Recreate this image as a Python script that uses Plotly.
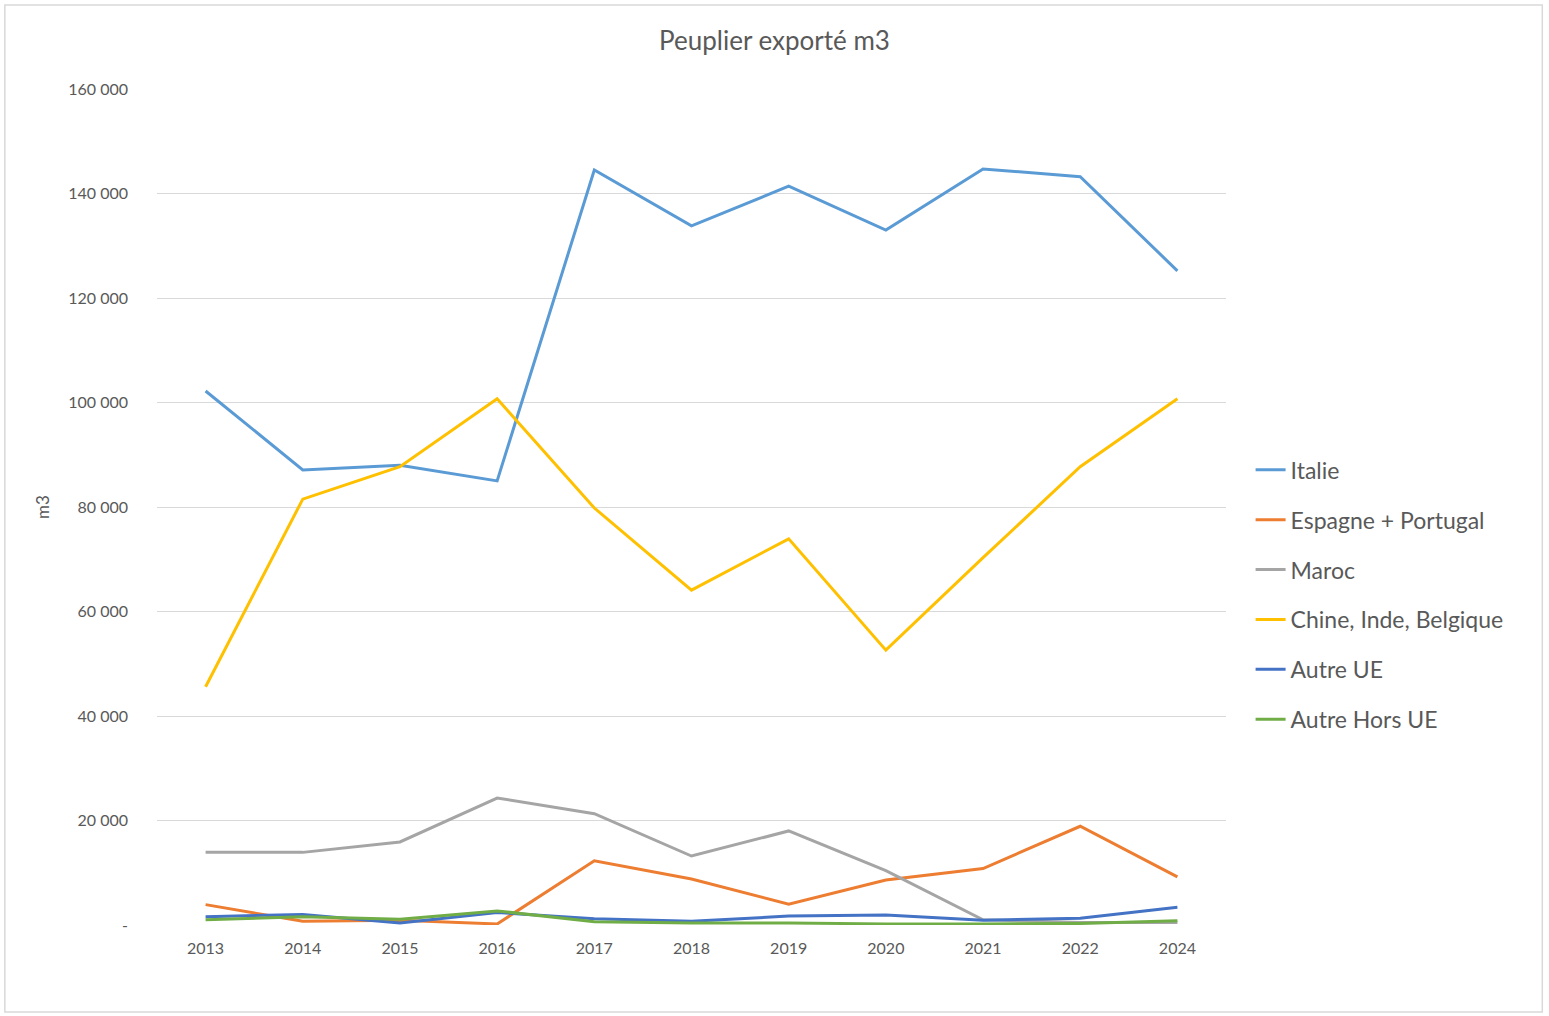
import plotly.graph_objects as go

years = ["2013", "2014", "2015", "2016", "2017", "2018", "2019", "2020", "2021", "2022", "2024"]

italie = [102200, 87100, 88000, 85000, 144500, 133800, 141400, 133000, 144700, 143200, 125200]
espagne_portugal = [3900, 700, 900, 200, 12300, 8800, 4000, 8600, 10800, 18900, 9200]
maroc = [13900, 13900, 15900, 24300, 21300, 13200, 18000, 10400, 1000, 500, 500]
chine_inde_belgique = [45600, 81500, 87700, 100700, 79800, 64100, 73900, 52600, 70300, 87700, 100700]
autre_ue = [1600, 2000, 400, 2400, 1200, 700, 1700, 1900, 900, 1300, 3400]
autre_hors_ue = [1000, 1600, 1100, 2700, 600, 400, 400, 200, 200, 300, 800]

series_names = ["Italie", "Espagne + Portugal", "Maroc", "Chine, Inde, Belgique", "Autre UE", "Autre Hors UE"]
series_values = [italie, espagne_portugal, maroc, chine_inde_belgique, autre_ue, autre_hors_ue]
colors = ["#5B9BD5", "#ED7D31", "#A5A5A5", "#FFC000", "#4472C4", "#70AD47"]

ytick_vals = [0, 20000, 40000, 60000, 80000, 100000, 120000, 140000, 160000]
ytick_text = ["-", "20 000", "40 000", "60 000", "80 000", "100 000", "120 000", "140 000", "160 000"]

fig = go.Figure()
for i, (name, vals, col) in enumerate(zip(series_names, series_values, colors)):
    fig.add_trace(go.Scatter(
        x=years, y=vals, name=name, mode="lines",
        line=dict(color=col, width=3),
        legendgroup=f"g{i}",
    ))

fig.update_layout(
    width=1549, height=1016,
    margin=dict(l=157, r=323, t=89, b=91),
    paper_bgcolor="white", plot_bgcolor="white",
    font=dict(family="Lato, 'Open Sans', sans-serif", color="#595959"),
    title=dict(text="Peuplier exporté m3", x=0.5, xref="container", xanchor="center",
               y=1 - 41 / 1016, yref="container", yanchor="middle",
               font=dict(size=26, color="#595959")),
    showlegend=True,
    legend=dict(x=1.023, xanchor="left", y=0.395, yanchor="middle",
                font=dict(size=23, color="#595959"), tracegroupgap=17,
                bgcolor="rgba(0,0,0,0)"),
    xaxis=dict(type="category", range=[-0.5, 10.5], showgrid=False, showline=False, ticks="",
               tickfont=dict(size=16, color="#595959"), zeroline=False,
               ticklabelstandoff=12),
    yaxis=dict(range=[0, 160000], tickvals=ytick_vals, ticktext=ytick_text,
               showgrid=True, gridcolor="#D9D9D9", gridwidth=1, zeroline=False,
               showline=False, ticks="", tickfont=dict(size=16, color="#595959"),
               ticklabelstandoff=28,
               title=dict(text="m3", font=dict(size=17, color="#595959"), standoff=14)),
    shapes=[dict(type="rect", xref="paper", yref="paper",
                 x0=(5 - 157) / 1068, x1=(1541 - 157) / 1068,
                 y0=(925 - 1012) / 836, y1=(925 - 5) / 836,
                 line=dict(color="#D9D9D9", width=1.5), fillcolor="rgba(0,0,0,0)", layer="below")],
)

fig.write_html("out.html")
